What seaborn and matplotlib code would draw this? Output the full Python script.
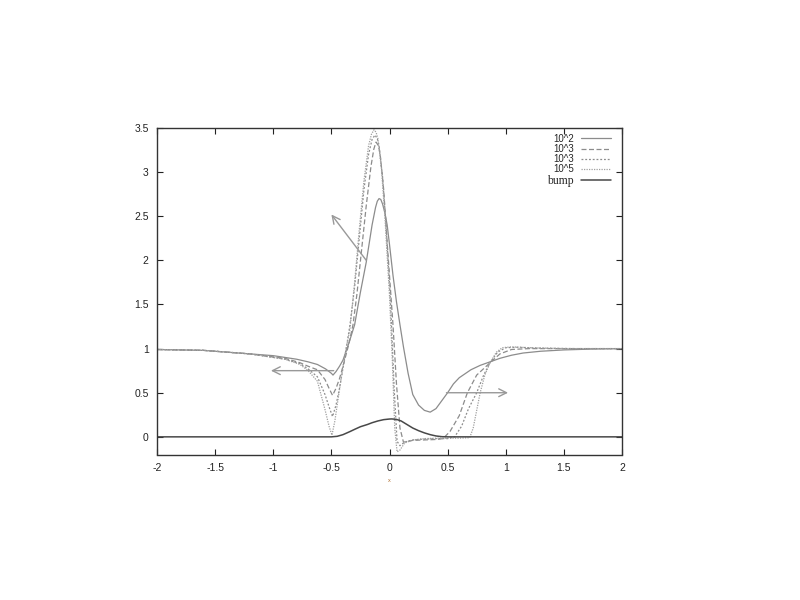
import matplotlib
matplotlib.use("Agg")
import matplotlib.pyplot as plt
import seaborn as sns
import pandas as pd

# series
x_1e2 = [-2.0, -1.6, -1.2, -1.0, -0.8, -0.7, -0.62, -0.55, -0.5, -0.486, -0.46, -0.43,
         -0.4, -0.35, -0.3, -0.25, -0.2, -0.15, -0.12, -0.105, -0.09, -0.075, -0.06, -0.04,
         -0.02, 0.0, 0.03, 0.06, 0.09, 0.12, 0.16, 0.2, 0.25, 0.3, 0.35, 0.4, 0.45, 0.5,
         0.55, 0.6, 0.7, 0.78, 0.865, 0.95, 1.05, 1.15, 1.3, 1.5, 1.75, 2.0]
y_1e2 = [0.99, 0.98, 0.94, 0.92, 0.88, 0.85, 0.82, 0.77, 0.72, 0.70, 0.74, 0.80,
         0.87, 1.06, 1.27, 1.64, 1.98, 2.40, 2.60, 2.67, 2.70, 2.69, 2.64, 2.54,
         2.40, 2.18, 1.83, 1.53, 1.27, 1.02, 0.72, 0.48, 0.36, 0.30, 0.28, 0.32, 0.41, 0.50,
         0.60, 0.67, 0.76, 0.81, 0.85, 0.89, 0.925, 0.95, 0.97, 0.985, 0.995, 1.0]

x_1e3a = [-2.0, -1.6, -1.2, -0.9, -0.77, -0.7, -0.62, -0.555, -0.52, -0.49, -0.46, -0.43,
          -0.4, -0.35, -0.314, -0.28, -0.24, -0.2, -0.16, -0.135, -0.116, -0.095, -0.08, -0.05,
          -0.02, 0.03, 0.06, 0.09, 0.12, 0.16, 0.2, 0.3, 0.4, 0.46, 0.52, 0.6, 0.67, 0.75,
          0.865, 0.95, 1.05, 1.2, 1.5, 2.0]
y_1e3a = [0.99, 0.98, 0.94, 0.89, 0.84, 0.80, 0.76, 0.65, 0.55, 0.47, 0.55, 0.66,
          0.80, 1.05, 1.27, 1.62, 2.12, 2.62, 3.06, 3.26, 3.34, 3.30, 3.20, 2.80,
          2.20, 1.27, 0.60, 0.10, -0.06, -0.05, -0.04, -0.035, -0.03, -0.02, 0.06, 0.24, 0.50, 0.70,
          0.84, 0.94, 0.99, 1.0, 1.0, 1.0]

x_1e3b = [-2.0, -1.6, -1.2, -0.9, -0.77, -0.7, -0.62, -0.555, -0.52, -0.49, -0.46, -0.43,
          -0.4, -0.37, -0.34, -0.3, -0.26, -0.22, -0.18, -0.15, -0.125, -0.105, -0.09, -0.06,
          -0.03, 0.01, 0.04, 0.065, 0.09, 0.13, 0.2, 0.3, 0.4, 0.5, 0.56, 0.62, 0.68, 0.75,
          0.81, 0.865, 0.93, 1.0, 1.1, 1.3, 1.6, 2.0]
y_1e3b = [0.99, 0.98, 0.94, 0.88, 0.83, 0.77, 0.68, 0.48, 0.34, 0.23, 0.36, 0.55,
          0.78, 1.02, 1.27, 1.70, 2.25, 2.80, 3.20, 3.37, 3.42, 3.38, 3.30, 2.95,
          2.40, 1.50, 0.55, -0.05, -0.10, -0.06, -0.035, -0.025, -0.02, -0.02, 0.0, 0.12, 0.32, 0.50,
          0.70, 0.84, 0.96, 1.01, 1.015, 1.005, 1.0, 1.0]

x_1e5 = [-2.0, -1.6, -1.2, -0.9, -0.77, -0.7, -0.62, -0.555, -0.52, -0.495, -0.47, -0.44,
         -0.4, -0.37, -0.34, -0.3, -0.26, -0.22, -0.18, -0.155, -0.133, -0.115, -0.1, -0.07,
         -0.04, 0.0, 0.025, 0.045, 0.065, 0.09, 0.13, 0.2, 0.3, 0.4, 0.5, 0.6, 0.69, 0.72,
         0.75, 0.78, 0.82, 0.865, 0.92, 0.97, 1.05, 1.2, 1.5, 2.0]
y_1e5 = [0.99, 0.98, 0.94, 0.88, 0.82, 0.75, 0.63, 0.31, 0.12, 0.02, 0.18, 0.45,
         0.80, 1.02, 1.22, 1.75, 2.35, 2.90, 3.30, 3.43, 3.48, 3.45, 3.38, 3.05,
         2.50, 1.60, 0.85, 0.10, -0.17, -0.15, -0.07, -0.035, -0.02, -0.015, -0.015, -0.015, -0.01, 0.10,
         0.30, 0.50, 0.70, 0.84, 0.96, 1.01, 1.02, 1.01, 1.0, 1.0]

x_bump = [-2.0, -0.5, -0.45, -0.4, -0.34, -0.3, -0.25, -0.19, -0.15, -0.1, -0.05, 0.0,
          0.02, 0.06, 0.1, 0.15, 0.2, 0.25, 0.3, 0.35, 0.4, 0.45, 0.5, 2.0]
y_bump = [0.0, 0.0, 0.006, 0.025, 0.06, 0.085, 0.115, 0.14, 0.16, 0.18, 0.195, 0.202,
          0.203, 0.198, 0.18, 0.14, 0.10, 0.07, 0.045, 0.025, 0.01, 0.002, 0.0, 0.0]

# arrows: (start, end) in data units
arrow_starts = [(-0.2, 2.0), (-0.48, 0.75), (0.49, 0.5)]
arrow_ends = [(-0.5, 2.52), (-1.02, 0.75), (1.02, 0.5)]

x_ticks = [-2, -1.5, -1, -0.5, 0, 0.5, 1, 1.5, 2]
x_ticklabels = ["-2", "-1.5", "-1", "-0.5", "0", "0.5", "1", "1.5", "2"]
y_ticks = [0, 0.5, 1, 1.5, 2, 2.5, 3, 3.5]
y_ticklabels = ["0", "0.5", "1", "1.5", "2", "2.5", "3", "3.5"]

sns.set_style("ticks")
plt.rcParams["font.family"] = ["Liberation Sans", "DejaVu Sans"]
plt.rcParams["axes.unicode_minus"] = False
plt.rcParams["xtick.direction"] = "in"
plt.rcParams["ytick.direction"] = "in"

fig = plt.figure(figsize=(8, 6), dpi=100)
ax = fig.add_axes([0.19625, 0.2425, 0.58125, 0.5442])

series = [
    ("10^2", x_1e2, y_1e2, "#8c8c8c", (None, None)),
    ("10^3", x_1e3a, y_1e3a, "#8c8c8c", (4, 2)),
    ("10^3", x_1e3b, y_1e3b, "#8c8c8c", (1.5, 1.5)),
    ("10^5", x_1e5, y_1e5, "#a0a0a0", (1, 1)),
]
for label, xs, ys, col, dash in series:
    df = pd.DataFrame({"x": xs, "y": ys})
    line = sns.lineplot(data=df, x="x", y="y", ax=ax, color=col, lw=0.9,
                        label=label, estimator=None, sort=False)
    if dash[0] is not None:
        line.lines[-1].set_dashes(dash)

bdf = pd.DataFrame({"x": x_bump, "y": y_bump})
sns.lineplot(data=bdf, x="x", y="y", ax=ax, color="#484848", lw=1.1,
             label="bump", estimator=None, sort=False)

for s, e in zip(arrow_starts, arrow_ends):
    ax.annotate("", xy=e, xytext=s,
                arrowprops=dict(arrowstyle="->", color="#999999", lw=1.0,
                                mutation_scale=14, shrinkA=0, shrinkB=0))

ax.set_xlim(-2, 2)
ax.set_ylim(-0.2, 3.5)
ax.set_xticks(x_ticks)
ax.set_xticklabels(x_ticklabels)
ax.set_yticks(y_ticks)
ax.set_yticklabels(y_ticklabels)
ax.tick_params(axis="both", which="both", top=True, right=True, length=4,
               width=0.8, labelsize=7.5, pad=6, colors="#222222")
for sp in ax.spines.values():
    sp.set_linewidth(1.0)
    sp.set_color("#333333")
ax.set_xlabel("x", fontsize=4, color="#b07030", labelpad=4)
ax.set_ylabel("")

leg = ax.legend(loc="upper right", bbox_to_anchor=(0.99, 1.003), frameon=False,
                markerfirst=False, fontsize=7, handlelength=3.0, labelspacing=0.02,
                borderpad=0.2, handletextpad=0.8)
for t in leg.get_texts()[:-1]:
    t.set_family(["Liberation Sans", "DejaVu Sans"])
leg.get_texts()[-1].set_family(["Liberation Serif", "DejaVu Serif"])
leg.get_texts()[-1].set_fontsize(8.5)

fig.savefig("out.png", dpi=100)
plt.close(fig)
